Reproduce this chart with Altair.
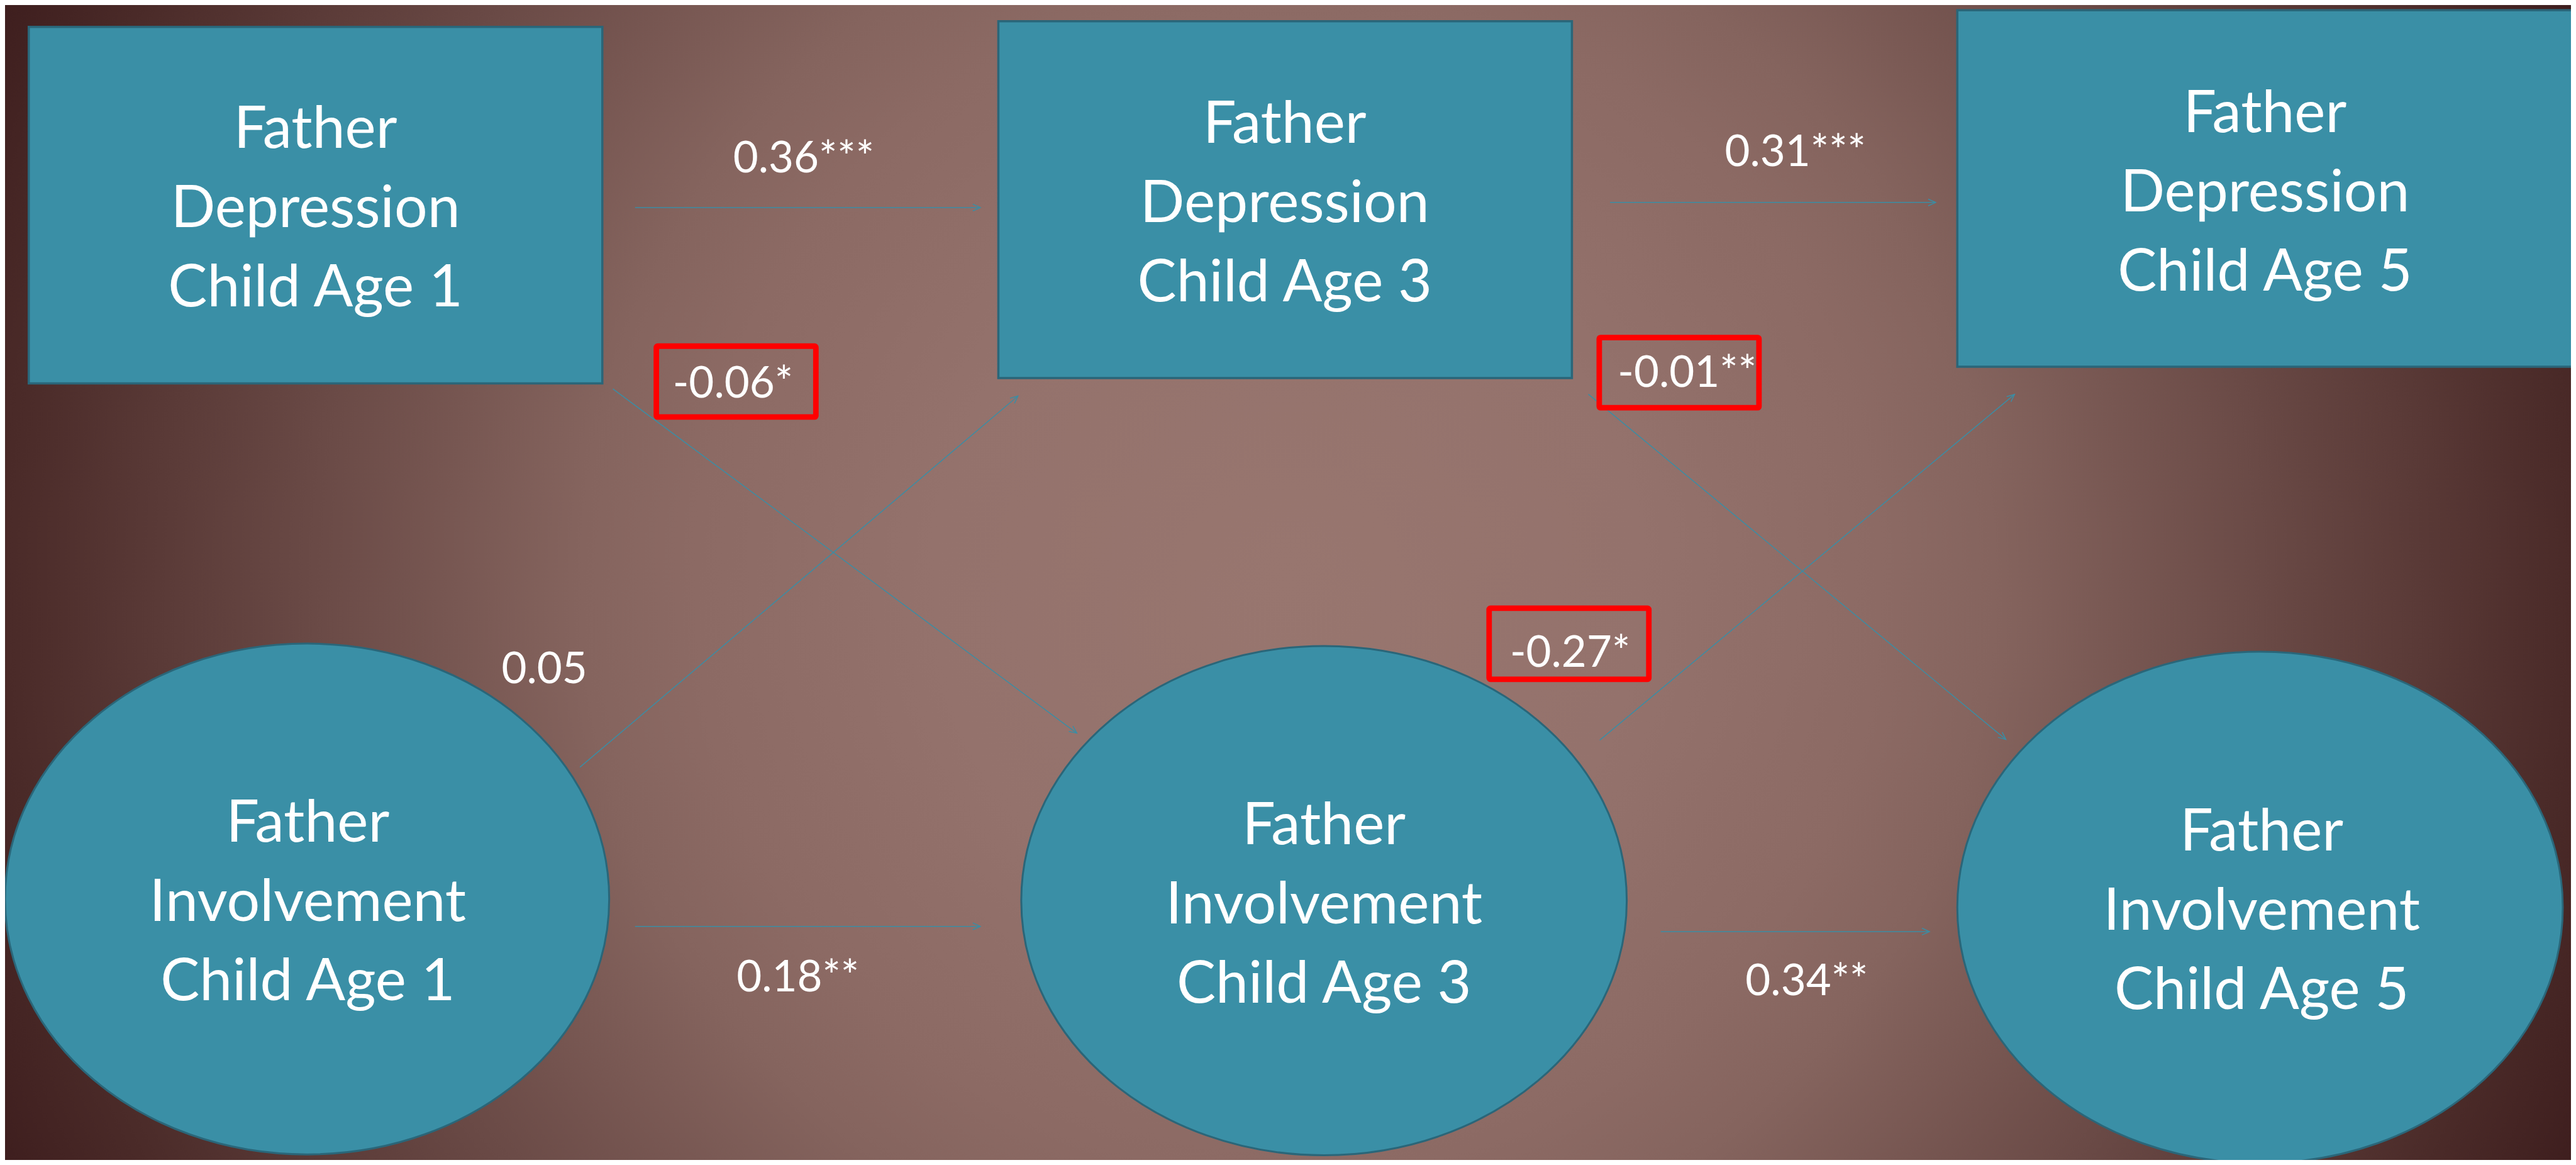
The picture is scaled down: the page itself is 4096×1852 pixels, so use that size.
import math
import altair as alt
import pandas as pd

# ---- canvas (plot area in px) and reference coordinate frame ----
W, H = 4080, 1836
XMAX, YMAX = 1568.0, 709.0
SX, SY = W / XMAX, H / YMAX

# ---- nodes: rectangles (Father Depression) ----
rect_labels = ["Father\nDepression\nChild Age 1",
               "Father\nDepression\nChild Age 3",
               "Father\nDepression\nChild Age 5"]
rect_x1 = [14.5, 607.0, 1193.0]
rect_x2 = [365.0, 957.5, 1570.0]
rect_y1 = [13.4, 9.9, 3.2]
rect_y2 = [232.3, 229.0, 222.0]
rect_tx = [189.7, 782.0, 1381.0]
rect_ty = [123.7, 120.3, 113.9]

# ---- nodes: ellipses (Father Involvement) ----
ell_labels = ["Father\nInvolvement\nChild Age 1",
              "Father\nInvolvement\nChild Age 3",
              "Father\nInvolvement\nChild Age 5"]
ell_cx = [184.6, 806.0, 1378.0]
ell_cy = [548.8, 549.8, 554.0]
ell_rx = [184.6, 185.0, 185.0]
ell_ry = [156.8, 156.3, 157.0]
ell_tx = [185.0, 806.0, 1379.0]
ell_ty = [549.5, 551.0, 554.8]

# ---- paths (arrows) ----
edge_x1 = [385.0, 980.8, 385.0, 1011.8, 371.4, 351.3, 967.5, 974.5]
edge_y1 = [124.3, 121.2, 565.6, 568.8, 235.6, 467.9, 238.9, 451.3]
edge_x2 = [596.0, 1179.8, 596.0, 1176.0, 655.0, 619.0, 1222.7, 1228.0]
edge_y2 = [124.3, 121.2, 565.6, 568.8, 447.0, 240.0, 450.9, 239.0]

# ---- coefficient labels ----
coef_text = ["0.36***", "0.31***", "0.05", "0.18**", "0.34**",
             "-0.06*", "-0.01**", "-0.27*"]
coef_x = [488.0, 1094.0, 329.6, 484.5, 1101.0, 444.8, 1027.9, 956.4]
coef_y = [93.0, 89.3, 406.8, 596.0, 598.0, 231.5, 224.7, 396.6]

# ---- highlighted (red-boxed) coefficients ----
hi_x1 = [398.0, 974.2, 906.9]
hi_x2 = [495.5, 1071.8, 1004.5]
hi_y1 = [209.4, 204.1, 370.3]
hi_y2 = [252.9, 247.2, 413.9]

TEAL = "#3a8fa6"
TEAL_EDGE = "#2a6679"
LINE = "#3b8da4"

NODE_FS, NODE_LH = 93, 126
COEF_FS = 69

xs = alt.Scale(domain=[0, XMAX], nice=False, zero=False)
ys = alt.Scale(domain=[0, YMAX], nice=False, zero=False, reverse=True)


def X(f):
    return alt.X(f, type="quantitative", scale=xs, axis=None)


def Y(f):
    return alt.Y(f, type="quantitative", scale=ys, axis=None)


# background radial gradient
bg = alt.Chart(pd.DataFrame({"a": [0]})).mark_rect(
    fill=alt.RadialGradient(
        gradient="radial",
        x1=0.5, y1=0.5, r1=0.0, x2=0.5, y2=0.5, r2=0.55,
        stops=[
            alt.GradientStop(color="#98766f", offset=0.0),
            alt.GradientStop(color="#94726c", offset=0.25),
            alt.GradientStop(color="#8c6a64", offset=0.42),
            alt.GradientStop(color="#85645e", offset=0.5),
            alt.GradientStop(color="#6a4a46", offset=0.69),
            alt.GradientStop(color="#4a2a28", offset=0.91),
            alt.GradientStop(color="#3e1e1e", offset=1.0),
        ],
    )
).encode(x=alt.value(0), x2=alt.value(W), y=alt.value(0), y2=alt.value(H))

rect_df = pd.DataFrame({"x1": rect_x1, "x2": rect_x2, "y1": rect_y1, "y2": rect_y2})
rects = alt.Chart(rect_df).mark_rect(
    fill=TEAL, stroke=TEAL_EDGE, strokeWidth=3.5, clip=True
).encode(x=X("x1"), x2="x2", y=Y("y1"), y2="y2")

# ellipses drawn as custom symbol paths (cubic Bezier ellipse)
C = 0.5523
ell_shape, ell_size = [], []
for rx, ry in zip(ell_rx, ell_ry):
    k = (ry * SY) / (rx * SX)
    p = (f"M -1 0 C -1 {-C*k:.4f} {-C:.4f} {-k:.4f} 0 {-k:.4f} "
         f"C {C:.4f} {-k:.4f} 1 {-C*k:.4f} 1 0 "
         f"C 1 {C*k:.4f} {C:.4f} {k:.4f} 0 {k:.4f} "
         f"C {-C:.4f} {k:.4f} -1 {C*k:.4f} -1 0 Z")
    ell_shape.append(p)
    ell_size.append((2 * rx * SX) ** 2)
ell_df = pd.DataFrame({"x": ell_cx, "y": ell_cy, "shape": ell_shape, "size": ell_size})
ells = alt.Chart(ell_df).mark_point(
    filled=True, fill=TEAL, fillOpacity=1, stroke=TEAL_EDGE, strokeWidth=3, opacity=1, clip=True
).encode(
    x=X("x"), y=Y("y"),
    shape=alt.Shape("shape:N", scale=None),
    size=alt.Size("size:Q", scale=None),
)

edge_df = pd.DataFrame({"x1": edge_x1, "y1": edge_y1, "x2": edge_x2, "y2": edge_y2})
edges = alt.Chart(edge_df).mark_rule(color=LINE, strokeWidth=1.5).encode(
    x=X("x1"), y=Y("y1"), x2="x2", y2="y2"
)

ang = []
for a, b, c, d in zip(edge_x1, edge_y1, edge_x2, edge_y2):
    ang.append(math.degrees(math.atan2((d - b) * SY, (c - a) * SX)) % 360)
head_df = pd.DataFrame({"x": edge_x2, "y": edge_y2, "angle": ang})
heads = alt.Chart(head_df).mark_point(
    shape="M -1 -0.45 L 0 0 L -1 0.45", filled=False, stroke=LINE,
    strokeWidth=1.5, size=576, opacity=1
).encode(x=X("x"), y=Y("y"), angle=alt.Angle("angle:Q", scale=None))

hi_df = pd.DataFrame({"x1": hi_x1, "x2": hi_x2, "y1": hi_y1, "y2": hi_y2})
hibox = alt.Chart(hi_df).mark_rect(
    fillOpacity=0, stroke="#ff0000", strokeWidth=8.8, cornerRadius=2
).encode(x=X("x1"), x2="x2", y=Y("y1"), y2="y2")

node_df = pd.DataFrame({
    "x": rect_tx + ell_tx,
    "y": rect_ty + ell_ty,
    "t": rect_labels + ell_labels,
})
# first line is anchored at y; shift up one line so the middle line sits on y
node_text = alt.Chart(node_df).mark_text(
    font="Lato", fontSize=NODE_FS, color="white", lineBreak="\n", lineHeight=NODE_LH,
    align="center", baseline="middle", dy=5 - NODE_LH
).encode(x=X("x"), y=Y("y"), text="t:N")

coef_df = pd.DataFrame({"x": coef_x, "y": coef_y, "t": coef_text})
coef = alt.Chart(coef_df).mark_text(
    font="Lato", fontSize=COEF_FS, color="white", align="center", baseline="middle", dy=4
).encode(x=X("x"), y=Y("y"), text="t:N")

chart = alt.layer(bg, edges, heads, rects, ells, hibox, node_text, coef).properties(
    width=W, height=H, padding=0, autosize=alt.AutoSizeParams(type="none")
).configure_view(strokeWidth=0)

chart.save("out.html", embed_options={"renderer": "svg", "actions": False})
